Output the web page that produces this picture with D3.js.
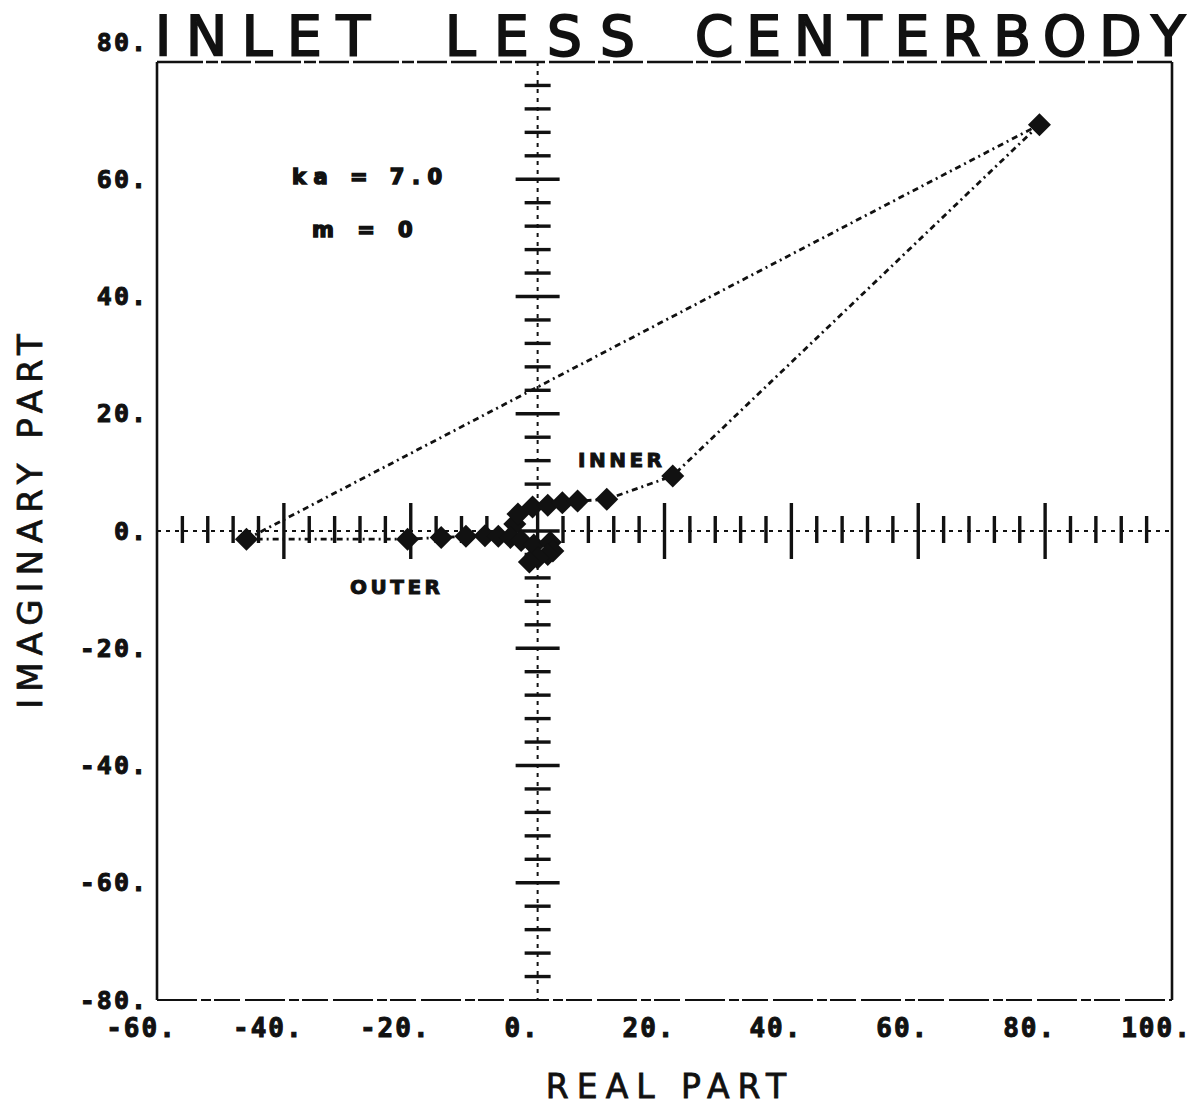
<!DOCTYPE html>
<html>
<head>
<meta charset="utf-8">
<script src="https://cdn.jsdelivr.net/npm/d3@7/dist/d3.min.js"></script>
<style>
  html, body { margin: 0; padding: 0; background: #ffffff; }
  svg { display: block; }
</style>
</head>
<body>
<script>
// Eigenvalue locus in the complex plane: inner and outer branches
const innerRe = [-3.6, -3.1, -0.8, 1.6, 3.9, 6.3, 10.9, 21.3, 79.1];
const innerIm = [1.2, 2.9, 4.1, 4.4, 4.8, 5.1, 5.4, 9.4, 69.3];
const outerRe = [-45.9, -20.5, -15.2, -11.3, -8.3, -6.2, -4.3, -2.6, -0.6, 2.0, 2.4, 1.6, 0.0, -1.3];
const outerIm = [-1.4, -1.4, -1.1, -0.9, -0.8, -0.9, -1.1, -1.6, -2.4, -1.9, -3.4, -4.0, -4.6, -5.3];

const xTickValues = [-60, -40, -20, 0, 20, 40, 60, 80, 100];
const yTickValues = [80, 60, 40, 20, 0, -20, -40, -60, -80];
const xTickLabels = ["-60.", "-40.", "-20.", "0.", "20.", "40.", "60.", "80.", "100."];
const yTickLabels = ["80.", "60.", "40.", "20.", "0.", "-20.", "-40.", "-60.", "-80."];

const titleWords = ["INLET", "LESS", "CENTERBODY"];
const xTitle = "REAL PART";
const yTitle = "IMAGINARY PART";
const paramLines = ["ka = 7.0", "m = 0"];
const branchLabels = ["INNER", "OUTER"];

const W = 1200, H = 1109;
const svg = d3.select("body").append("svg").attr("width", W).attr("height", H);

const x = d3.scaleLinear().domain([-60, 100]).range([157, 1172]);
const y = d3.scaleLinear().domain([-80, 80]).range([1000, 62]);

const ink = "#111";
const labelFont = "'DejaVu Sans Mono', monospace";
const sans = "'DejaVu Sans', sans-serif";

// frame
svg.append("line").attr("x1", x(-60)).attr("x2", x(-60)).attr("y1", y(80)).attr("y2", y(-80))
  .attr("stroke", ink).attr("stroke-width", 2.6);
svg.append("line").attr("x1", x(100)).attr("x2", x(100)).attr("y1", y(80)).attr("y2", y(-80))
  .attr("stroke", ink).attr("stroke-width", 2.6);
svg.append("line").attr("x1", x(-60)).attr("x2", x(100)).attr("y1", y(80)).attr("y2", y(80))
  .attr("stroke", ink).attr("stroke-width", 2.4).attr("stroke-dasharray", "46,3,12,3,30,4");
svg.append("line").attr("x1", x(-60)).attr("x2", x(100)).attr("y1", y(-80)).attr("y2", y(-80))
  .attr("stroke", ink).attr("stroke-width", 2.2).attr("stroke-dasharray", "40,4,10,3,26,5");

// tick labels via axes
const xAxis = d3.axisBottom(x).tickValues(xTickValues).tickSize(0)
  .tickFormat((d, i) => xTickLabels[i]);
const gx = svg.append("g").attr("transform", `translate(0,${y(-80)})`).call(xAxis);
gx.select(".domain").remove();
gx.selectAll("text")
  .attr("font-family", labelFont).attr("font-weight", "bold").attr("font-size", 26)
  .attr("letter-spacing", 2).attr("fill", ink).attr("stroke", ink).attr("stroke-width", 1)
  .attr("dy", 34).attr("dx", -16);

const yAxis = d3.axisLeft(y).tickValues(yTickValues).tickSize(0)
  .tickFormat((d, i) => yTickLabels[i]);
const gy = svg.append("g").attr("transform", `translate(${x(-60)},0)`).call(yAxis);
gy.select(".domain").remove();
gy.selectAll("text")
  .attr("font-family", labelFont).attr("font-weight", "bold").attr("font-size", 25)
  .attr("letter-spacing", 2).attr("fill", ink).attr("stroke", ink).attr("stroke-width", 1)
  .attr("dx", -6).attr("dy", "0.32em");
gy.selectAll(".tick").filter(d => d === 80).select("text").attr("dy", -12);

// coordinate cross through origin
svg.append("line").attr("x1", x(-60)).attr("x2", x(100)).attr("y1", y(0)).attr("y2", y(0))
  .attr("stroke", ink).attr("stroke-width", 2).attr("stroke-dasharray", "4,5");
svg.append("line").attr("x1", x(0)).attr("x2", x(0)).attr("y1", y(80)).attr("y2", y(-80))
  .attr("stroke", ink).attr("stroke-width", 2).attr("stroke-dasharray", "4,5");

const crossX = d3.range(-56, 100, 4);
svg.append("g").selectAll("line").data(crossX).join("line")
  .attr("x1", d => x(d)).attr("x2", d => x(d))
  .attr("y1", d => y(0) - (d % 20 === 0 ? 28 : 15))
  .attr("y2", d => y(0) + (d % 20 === 0 ? 28 : 12))
  .attr("stroke", ink).attr("stroke-width", 3.4);

const crossY = d3.range(-76, 80, 4);
svg.append("g").selectAll("line").data(crossY).join("line")
  .attr("x1", d => x(0) - (d % 20 === 0 ? 22 : 13))
  .attr("x2", d => x(0) + (d % 20 === 0 ? 22 : 13))
  .attr("y1", d => y(d)).attr("y2", d => y(d))
  .attr("stroke", ink).attr("stroke-width", 3.4);

// locus line: inner branch out to the far point, then across to the outer branch
const innerPts = innerRe.map((r, i) => [r, innerIm[i]]);
const outerPts = outerRe.map((r, i) => [r, outerIm[i]]);
const line = d3.line().x(d => x(d[0])).y(d => y(d[1]));
svg.append("path").datum(innerPts.concat(outerPts))
  .attr("d", line).attr("fill", "none").attr("stroke", ink)
  .attr("stroke-width", 2.8).attr("stroke-dasharray", "6,4,2,4")
  .attr("stroke-linejoin", "round");

// diamond markers
const diamond = "M0,-11.5 L11.5,0 L0,11.5 L-11.5,0 Z";
svg.append("g").selectAll("path").data(innerPts.concat(outerPts)).join("path")
  .attr("d", diamond)
  .attr("transform", d => `translate(${x(d[0])},${y(d[1])})`)
  .attr("fill", ink);

// title, one word at a time, letters spread out with wide word gaps
const titleX = [155, 445, 695];
const titleLen = [215, 190, 490];
svg.append("g").selectAll("text").data(titleWords).join("text")
  .attr("x", (d, i) => titleX[i]).attr("y", 55)
  .attr("font-family", sans).attr("font-size", 55)
  .attr("textLength", (d, i) => titleLen[i]).attr("lengthAdjust", "spacing")
  .attr("fill", ink).attr("stroke", ink).attr("stroke-width", 2)
  .text(d => d);

// axis titles
svg.append("text").attr("x", 670).attr("y", 1098).attr("text-anchor", "middle")
  .attr("font-family", sans).attr("font-size", 33)
  .attr("letter-spacing", 8).attr("fill", ink).attr("stroke", ink).attr("stroke-width", 0.8)
  .text(xTitle);
svg.append("text").attr("transform", "translate(42,518) rotate(-90)").attr("text-anchor", "middle")
  .attr("font-family", sans).attr("font-size", 34)
  .attr("letter-spacing", 7).attr("fill", ink).attr("stroke", ink).attr("stroke-width", 0.8)
  .text(yTitle);

// parameter annotations
svg.append("text").attr("x", 292).attr("y", 184)
  .attr("font-family", sans).attr("font-weight", "bold").attr("font-size", 21)
  .attr("letter-spacing", 7.5).attr("fill", ink).attr("stroke", ink).attr("stroke-width", 1.5)
  .text(paramLines[0]);
svg.append("text").attr("x", 312).attr("y", 237)
  .attr("font-family", sans).attr("font-weight", "bold").attr("font-size", 21)
  .attr("letter-spacing", 8).attr("fill", ink).attr("stroke", ink).attr("stroke-width", 1.5)
  .text(paramLines[1]);

// branch labels
svg.append("text").attr("x", 578).attr("y", 467)
  .attr("font-family", sans).attr("font-weight", "bold").attr("font-size", 20)
  .attr("letter-spacing", 3.5).attr("fill", ink).attr("stroke", ink).attr("stroke-width", 1)
  .text(branchLabels[0]);
svg.append("text").attr("x", 350).attr("y", 594)
  .attr("font-family", sans).attr("font-weight", "bold").attr("font-size", 20)
  .attr("letter-spacing", 3.5).attr("fill", ink).attr("stroke", ink).attr("stroke-width", 1)
  .text(branchLabels[1]);
</script>
</body>
</html>
